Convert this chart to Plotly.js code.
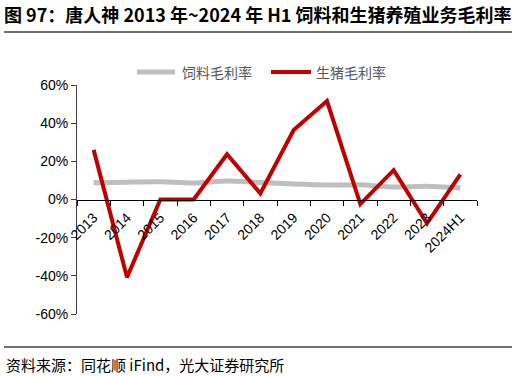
<!DOCTYPE html>
<html><head><meta charset="utf-8">
<script src="https://cdn.plot.ly/plotly-3.0.1.min.js"></script>
<style>html,body{margin:0;padding:0;background:#fff}#c{width:516px;height:376px}</style>
</head><body><div id="c"></div>
<script>
const categories = ['2013','2014','2015','2016','2017','2018','2019','2020','2021','2022','2023','2024H1'];
const feedMargin = [8.8, 9.1, 9.3, 8.6, 9.7, 8.9, 8.1, 7.6, 7.7, 6.5, 6.9, 6.0];
const hogMargin = [26.0, -40.8, 0, 0, 23.7, 3.2, 36.4, 51.6, -2.4, 15.4, -12.5, 13.2];
const seriesNames = ['饲料毛利率', '生猪毛利率'];
const yTicks = [-60, -40, -20, 0, 20, 40, 60];
const yTickText = yTicks.map(v => v + '%');

const cjk = '"Noto Sans CJK SC", "Liberation Sans", sans-serif';
const L = 77, R = 477, T = 85, B = 314;
const px = x => (x - L) / (R - L);
const py = y => (B - y) / (B - T);
const colors = ['#BFBFBF', '#C00000'];

const data = [
  {x: categories, y: feedMargin, name: seriesNames[0], type: 'scatter', mode: 'lines',
   line: {color: colors[0], width: 5, shape: 'spline', smoothing: 0.6}},
  {x: categories, y: hogMargin, name: seriesNames[1], type: 'scatter', mode: 'lines',
   line: {color: colors[1], width: 4}}
];

const legY = 72;
const legItems = [{x0: 137, x1: 175, tx: 180}, {x0: 271, x1: 311, tx: 314}];

const layout = {
  width: 516, height: 376,
  margin: {l: L, r: 516 - R, t: T, b: 376 - B},
  paper_bgcolor: '#fff', plot_bgcolor: '#fff',
  showlegend: false,
  title: {text: '图 97：唐人神 2013 年~2024 年 H1 饲料和生猪养殖业务毛利率', xref: 'container', yref: 'container',
    x: 4/516, xanchor: 'left', y: 1 - 16/376, yanchor: 'middle',
    font: {family: cjk, size: 18, color: '#000', weight: 'bold'}},
  xaxis: {type: 'category', anchor: 'free', position: 0.5, showline: true, linecolor: '#000', linewidth: 1.5,
    ticks: 'outside', ticklen: 5, tickcolor: '#000', tickson: 'boundaries', tickangle: -45, ticklabelstandoff: 3,
    showgrid: false, zeroline: false, range: [-0.5, 11.5],
    tickfont: {family: '"Liberation Sans", Arial, sans-serif', size: 14, color: '#000'}},
  yaxis: {range: [-60, 60], tickvals: yTicks, ticktext: yTickText, showline: true, linecolor: '#404040', linewidth: 1,
    ticks: 'outside', ticklen: 5, tickcolor: '#404040', showgrid: false, zeroline: false,
    tickfont: {family: '"Liberation Sans", Arial, sans-serif', size: 14, color: '#000'}},
  shapes: [
    {type: 'line', xref: 'paper', yref: 'paper', x0: px(4), x1: px(512), y0: py(32), y1: py(32), line: {color: '#404040', width: 1.5}},
    {type: 'line', xref: 'paper', yref: 'paper', x0: px(4), x1: px(512), y0: py(347), y1: py(347), line: {color: '#404040', width: 1.5}}
  ].concat(legItems.map((it, i) => ({type: 'line', xref: 'paper', yref: 'paper', x0: px(it.x0), x1: px(it.x1),
    y0: py(legY), y1: py(legY), line: {color: colors[i], width: i === 0 ? 5 : 4}}))),
  annotations: [
    {text: '资料来源：同花顺 iFind，光大证券研究所', xref: 'paper', yref: 'paper', x: px(4), y: py(364),
     xanchor: 'left', yanchor: 'middle', showarrow: false, font: {family: cjk, size: 15, color: '#000'}}
  ].concat(legItems.map((it, i) => ({text: seriesNames[i], xref: 'paper', yref: 'paper', x: px(it.tx), y: py(legY),
    xanchor: 'left', yanchor: 'middle', showarrow: false, font: {family: cjk, size: 14, color: '#595959'}})))
};
Plotly.newPlot('c', data, layout, {staticPlot: true});
</script></body></html>
